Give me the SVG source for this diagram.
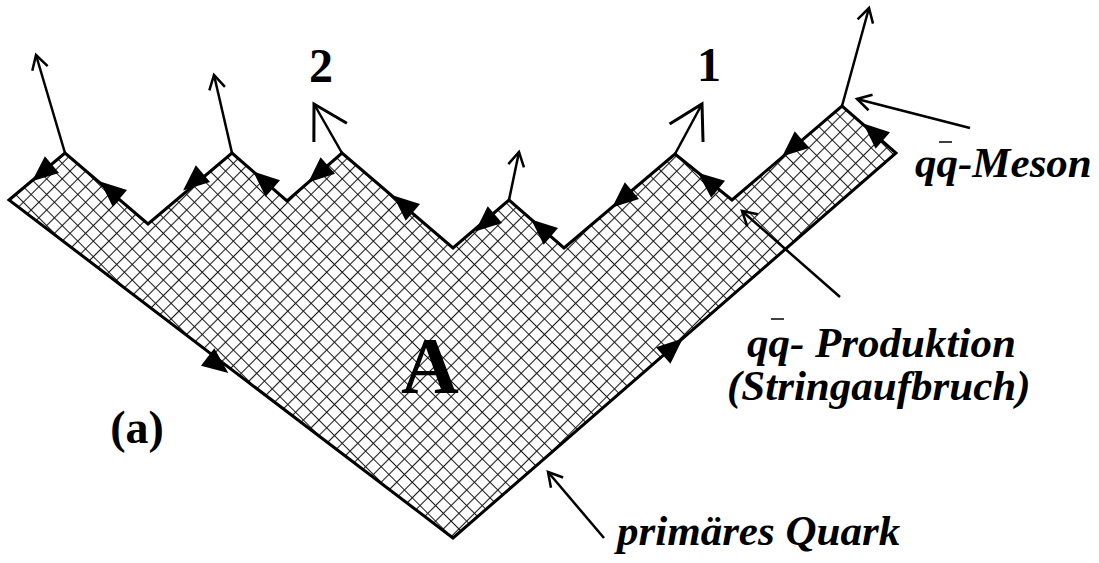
<svg xmlns="http://www.w3.org/2000/svg" width="1099" height="563" viewBox="0 0 1099 563">
<style>
.edge{fill:url(#hatch);stroke:#000;stroke-width:3;stroke-linejoin:miter}
.stem{fill:none;stroke:#000;stroke-width:2.5}
.ptr{fill:none;stroke:#000;stroke-width:2.5}
.lbl{font-family:"Liberation Serif","Times New Roman",serif;font-weight:bold;font-style:italic;font-size:43px;fill:#000}
.num{font-family:"Liberation Serif","Times New Roman",serif;font-weight:bold;fill:#000}
.bar{stroke:#000;stroke-width:1.5}
</style>
<defs>
<pattern id="hatch" patternUnits="userSpaceOnUse" width="11" height="11" patternTransform="rotate(45)">
<rect width="11" height="11" fill="#fff"/>
<path d="M0,5.5 H11 M5.5,0 V11" stroke="#1a1a1a" stroke-width="1.1" fill="none"/>
</pattern>
<marker id="vs" markerUnits="userSpaceOnUse" orient="auto" overflow="visible" markerWidth="1" markerHeight="1">
<path d="M-14,-8 L0,0 L-14,8" fill="none" stroke="#000" stroke-width="2.5"/>
</marker>
<marker id="vl" markerUnits="userSpaceOnUse" orient="auto" overflow="visible" markerWidth="1" markerHeight="1">
<path d="M-33,-19 L0,0 L-33,19" fill="none" stroke="#000" stroke-width="3"/>
</marker>
<path id="tri" d="M13,0 L-13,-11 L-13,11 Z" fill="#000"/>
</defs>

<g id="string-area">
<polygon class="edge" points="9,200 65,153 148,224 232,153 287,201 342,153 453,248 509,200 564,248 675,154 732,200 842,106 896,153 453,538"/>
</g>

<g id="edge-arrows">
<use href="#tri" transform="translate(42,173) rotate(140)"/>
<use href="#tri" transform="translate(110,190) rotate(-139.5)"/>
<use href="#tri" transform="translate(193,182) rotate(139.8)"/>
<use href="#tri" transform="translate(263,180) rotate(-139)"/>
<use href="#tri" transform="translate(318,174) rotate(139)"/>
<use href="#tri" transform="translate(403,204) rotate(-139.4)"/>
<use href="#tri" transform="translate(485,223) rotate(139.4)"/>
<use href="#tri" transform="translate(541,228) rotate(-139.4)"/>
<use href="#tri" transform="translate(622,199) rotate(139.7)"/>
<use href="#tri" transform="translate(708,181) rotate(-141)"/>
<use href="#tri" transform="translate(792,148) rotate(139.5)"/>
<use href="#tri" transform="translate(873,132) rotate(-139)"/>
<use href="#tri" transform="translate(218,365) rotate(37.3)"/>
<use href="#tri" transform="translate(673,347) rotate(-41)"/>
</g>

<g id="connectors">
<line class="stem" x1="65" y1="153" x2="36" y2="55" marker-end="url(#vs)"/>
<line class="stem" x1="232" y1="153" x2="214" y2="75" marker-end="url(#vs)"/>
<line class="stem" x1="342" y1="153" x2="314" y2="104" marker-end="url(#vl)"/>
<line class="stem" x1="509" y1="200" x2="519" y2="152" marker-end="url(#vs)"/>
<line class="stem" x1="675" y1="154" x2="702" y2="104" marker-end="url(#vl)"/>
<line class="stem" x1="842" y1="106" x2="869" y2="8" marker-end="url(#vs)"/>
<line class="ptr" x1="970" y1="128" x2="857" y2="99" marker-end="url(#vs)"/>
<line class="ptr" x1="840" y1="297" x2="742" y2="211" marker-end="url(#vs)"/>
<line class="ptr" x1="604" y1="538" x2="548" y2="472" marker-end="url(#vs)"/>
</g>

<g id="label-2"><text class="num" x="321" y="82" font-size="48" text-anchor="middle">2</text></g>
<g id="label-1"><text class="num" x="709" y="81" font-size="48" text-anchor="middle">1</text></g>
<g id="label-A"><text class="num" x="430" y="393" font-size="80" text-anchor="middle">A</text></g>
<g id="label-a"><text class="num" x="137" y="443" font-size="46" text-anchor="middle">(a)</text></g>

<g id="label-meson">
<text class="lbl" x="915" y="177">qq-Meson</text>
<line class="bar" x1="939" y1="142" x2="952" y2="142"/>
</g>
<g id="label-produktion">
<text class="lbl" x="747" y="357" font-size="43.5">qq- Produktion</text>
<text class="lbl" x="727" y="400" font-size="43.5">(Stringaufbruch)</text>
<line class="bar" x1="771" y1="319" x2="784" y2="319"/>
</g>
<g id="label-quark">
<text class="lbl" x="617" y="545" font-size="41">primäres Quark</text>
</g>
</svg>
